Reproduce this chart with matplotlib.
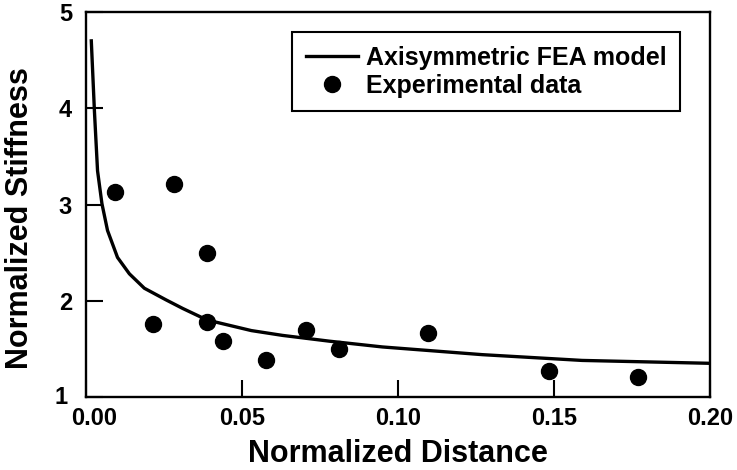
import matplotlib.pyplot as plt
from matplotlib.transforms import ScaledTranslation

# FEA curve (normalized distance vs normalized stiffness)
fea_x = [0.0017, 0.0027, 0.0037, 0.0051, 0.0069, 0.0101, 0.0139, 0.0187,
         0.0256, 0.031, 0.0388, 0.053, 0.063, 0.078, 0.095, 0.127, 0.159, 0.20]
fea_y = [4.70, 3.97, 3.35, 3.01, 2.73, 2.45, 2.28, 2.13,
         2.01, 1.92, 1.80, 1.69, 1.64, 1.58, 1.52, 1.44, 1.38, 1.35]

# measured points
exp_x = [0.0093, 0.0283, 0.0388, 0.0216, 0.0388, 0.0439, 0.0577,
         0.0706, 0.0812, 0.1095, 0.1485, 0.1768]
exp_y = [3.13, 3.21, 2.50, 1.76, 1.78, 1.58, 1.38,
         1.70, 1.50, 1.67, 1.27, 1.21]

x_ticks = [0.00, 0.05, 0.10, 0.15, 0.20]
y_ticks = [1, 2, 3, 4, 5]

plt.rcParams['font.family'] = ['Liberation Sans', 'DejaVu Sans']
plt.rcParams['font.weight'] = 'bold'

fig = plt.figure(figsize=(7.37, 4.70), dpi=100)
ax = fig.add_axes([86 / 737, 1 - 397 / 470, 624 / 737, 385 / 470])

ax.plot(fea_x, fea_y, color='black', linewidth=2.4,
        label='Axisymmetric FEA model')
ax.plot(exp_x, exp_y, 'o', color='black', markersize=11.5,
        label='Experimental data')

ax.set_xlim(0, 0.20)
ax.set_ylim(1, 5)
ax.set_xticks(x_ticks)
ax.set_xticklabels(['%.2f' % v for v in x_ticks])
ax.set_yticks(y_ticks)
ax.set_yticklabels([str(v) for v in y_ticks])
ax.tick_params(direction='in', length=12, width=1.5, labelsize=17)
ax.tick_params(axis='x', pad=7)
ax.tick_params(axis='y', pad=10)
for s in ax.spines.values():
    s.set_linewidth(1.7)

# nudge the corner labels apart so "1" and "0.00" don't collide
first_x = ax.get_xticklabels()[0]
first_x.set_transform(first_x.get_transform()
                      + ScaledTranslation(8 / 100, 0, fig.dpi_scale_trans))
first_y = ax.get_yticklabels()[0]
first_y.set_transform(first_y.get_transform()
                      + ScaledTranslation(-4 / 100, 2 / 100, fig.dpi_scale_trans))

ax.set_xlabel('Normalized Distance', fontsize=22, fontweight='bold',
              va='baseline')
ax.set_ylabel('Normalized Stiffness', fontsize=22, fontweight='bold')
ax.yaxis.set_label_coords(-51 / 624, (397 - 218) / 385)
ax.xaxis.set_label_coords(0.5, -65 / 385)

leg = ax.legend(loc='upper right', bbox_to_anchor=(0.952, 0.948),
                borderaxespad=0, fontsize=18, frameon=True, fancybox=False,
                edgecolor='black', framealpha=1, handlelength=2.1,
                handletextpad=0.3, borderpad=0.55, labelspacing=0.15)
leg.get_frame().set_linewidth(1.5)

fig.savefig('out.png', dpi=100)
